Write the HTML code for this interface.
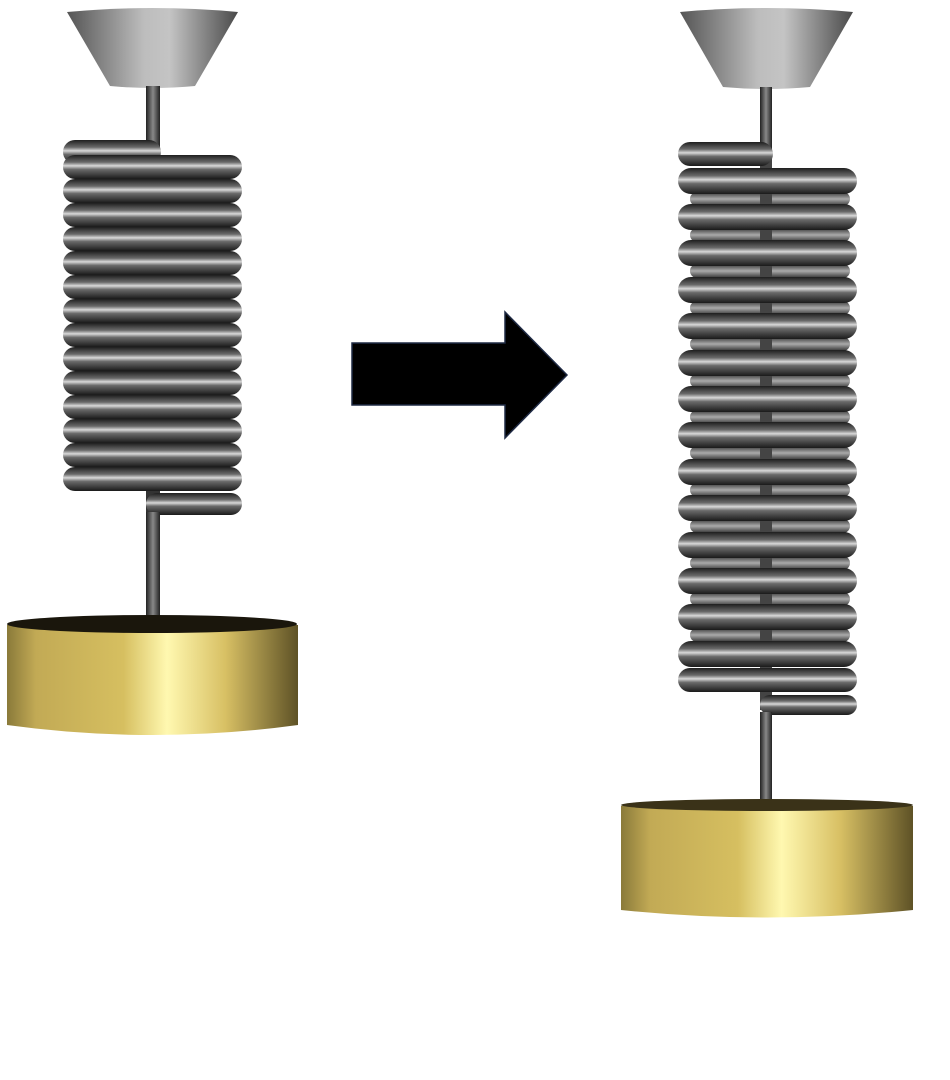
<!DOCTYPE html>
<html><head><meta charset="utf-8"><style>html,body{margin:0;padding:0;background:#fff}svg{display:block}</style></head>
<body>
<svg width="950" height="1080" viewBox="0 0 950 1080" xmlns="http://www.w3.org/2000/svg">
<defs>
<linearGradient id="cone" x1="0" x2="1" y1="0" y2="0">
<stop offset="0" stop-color="#555"/><stop offset="0.45" stop-color="#bdbdbd"/><stop offset="0.6" stop-color="#c4c4c4"/><stop offset="1" stop-color="#4a4a4a"/></linearGradient>
<linearGradient id="coil" x1="0" x2="0" y1="0" y2="1">
<stop offset="0" stop-color="#1e1e1e"/><stop offset="0.3" stop-color="#6a6a6a"/><stop offset="0.45" stop-color="#d8d8d8"/><stop offset="0.6" stop-color="#6a6a6a"/><stop offset="1" stop-color="#1a1a1a"/></linearGradient>
<linearGradient id="back" x1="0" x2="0" y1="0" y2="1">
<stop offset="0" stop-color="#333"/><stop offset="0.5" stop-color="#aaa"/><stop offset="1" stop-color="#333"/></linearGradient>
<linearGradient id="rod" x1="0" x2="1" y1="0" y2="0">
<stop offset="0" stop-color="#222"/><stop offset="0.5" stop-color="#888"/><stop offset="1" stop-color="#222"/></linearGradient>
<linearGradient id="gold" x1="0" x2="1" y1="0" y2="0">
<stop offset="0" stop-color="#8a7a3a"/><stop offset="0.1" stop-color="#c2aa55"/><stop offset="0.4" stop-color="#d6bf60"/><stop offset="0.55" stop-color="#fff8b0"/><stop offset="0.75" stop-color="#d8c064"/><stop offset="1" stop-color="#5e5226"/></linearGradient>
</defs>

<!-- LEFT -->
<path d="M67 12 Q152 4 238 12 L195 86 Q152 90 110 86 Z" fill="url(#cone)"/>
<rect x="146" y="86" width="14" height="70" fill="url(#rod)"/>
<rect x="146" y="150" width="14" height="365" fill="#333"/>
<g fill="url(#coil)">
<rect x="63" y="140" width="98" height="24" rx="12"/>
<rect x="63" y="155" width="179" height="24" rx="12"/>
<rect x="63" y="179" width="179" height="24" rx="12"/>
<rect x="63" y="203" width="179" height="24" rx="12"/>
<rect x="63" y="227" width="179" height="24" rx="12"/>
<rect x="63" y="251" width="179" height="24" rx="12"/>
<rect x="63" y="275" width="179" height="24" rx="12"/>
<rect x="63" y="299" width="179" height="24" rx="12"/>
<rect x="63" y="323" width="179" height="24" rx="12"/>
<rect x="63" y="347" width="179" height="24" rx="12"/>
<rect x="63" y="371" width="179" height="24" rx="12"/>
<rect x="63" y="395" width="179" height="24" rx="12"/>
<rect x="63" y="419" width="179" height="24" rx="12"/>
<rect x="63" y="443" width="179" height="24" rx="12"/>
<rect x="63" y="467" width="179" height="24" rx="12"/>
<rect x="146" y="493" width="96" height="22" rx="11"/>
</g>
<rect x="146" y="512" width="14" height="113" fill="url(#rod)"/>
<path d="M7 625 L7 725 Q152 745 298 725 L298 625 Z" fill="url(#gold)"/>
<ellipse cx="152" cy="624" rx="145" ry="9" fill="#1a160c"/>

<!-- ARROW -->
<path d="M352 343 L505 343 L505 312 L567 375 L505 438 L505 405 L352 405 Z" fill="#000" stroke="#1f2a44" stroke-width="1.5"/>

<!-- RIGHT -->
<path d="M680 12 Q766 4 853 12 L810 87 Q766 91 723 87 Z" fill="url(#cone)"/>
<rect x="760" y="87" width="12" height="70" fill="url(#rod)"/>
<g fill="url(#back)">
<rect x="690" y="192" width="160" height="14" rx="7"/>
<rect x="690" y="228" width="160" height="14" rx="7"/>
<rect x="690" y="264" width="160" height="14" rx="7"/>
<rect x="690" y="301" width="160" height="14" rx="7"/>
<rect x="690" y="337" width="160" height="14" rx="7"/>
<rect x="690" y="374" width="160" height="14" rx="7"/>
<rect x="690" y="410" width="160" height="14" rx="7"/>
<rect x="690" y="446" width="160" height="14" rx="7"/>
<rect x="690" y="483" width="160" height="14" rx="7"/>
<rect x="690" y="519" width="160" height="14" rx="7"/>
<rect x="690" y="556" width="160" height="14" rx="7"/>
<rect x="690" y="592" width="160" height="14" rx="7"/>
<rect x="690" y="628" width="160" height="14" rx="7"/>
</g>
<rect x="760" y="155" width="12" height="555" fill="#444"/>
<g fill="url(#coil)">
<rect x="678" y="142" width="95" height="24" rx="12"/>
<rect x="678" y="168" width="179" height="26" rx="13"/>
<rect x="678" y="204" width="179" height="26" rx="13"/>
<rect x="678" y="240" width="179" height="26" rx="13"/>
<rect x="678" y="277" width="179" height="26" rx="13"/>
<rect x="678" y="313" width="179" height="26" rx="13"/>
<rect x="678" y="350" width="179" height="26" rx="13"/>
<rect x="678" y="386" width="179" height="26" rx="13"/>
<rect x="678" y="422" width="179" height="26" rx="13"/>
<rect x="678" y="459" width="179" height="26" rx="13"/>
<rect x="678" y="495" width="179" height="26" rx="13"/>
<rect x="678" y="532" width="179" height="26" rx="13"/>
<rect x="678" y="568" width="179" height="26" rx="13"/>
<rect x="678" y="604" width="179" height="26" rx="13"/>
<rect x="678" y="641" width="179" height="26" rx="13"/>
<rect x="678" y="668" width="179" height="24" rx="12"/>
<rect x="760" y="695" width="97" height="20" rx="10"/>
</g>
<rect x="760" y="712" width="12" height="94" fill="url(#rod)"/>
<path d="M621 806 L621 910 Q767 925 913 910 L913 806 Z" fill="url(#gold)"/>
<ellipse cx="767" cy="805" rx="146" ry="6" fill="#3a3218"/>
</svg>
</body></html>
